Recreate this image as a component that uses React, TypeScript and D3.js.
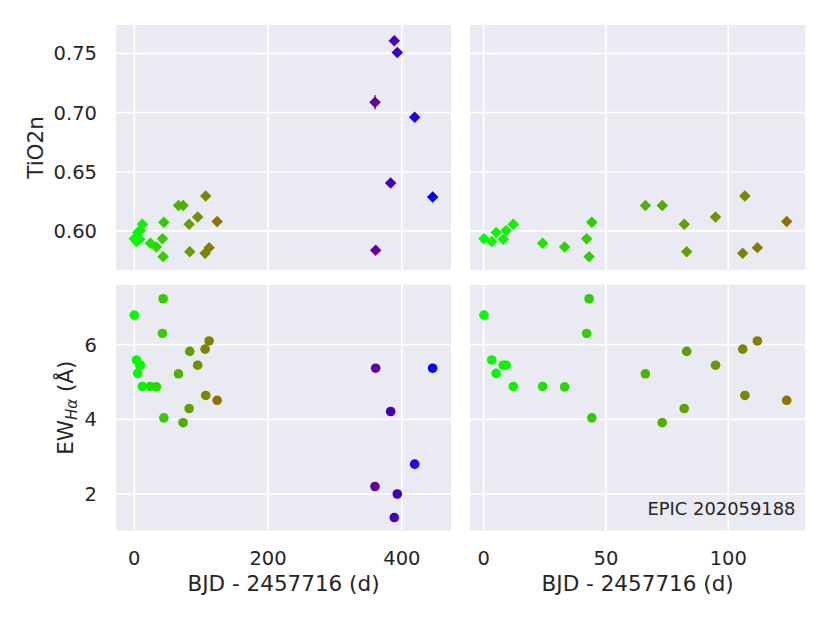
import React from "react";
import * as d3 from "d3";

// Observation time (BJD - 2457716, days)
const times: number[] = [
  0.1, 3.3, 5.1, 8.0, 9.2, 12.1, 24.1, 33.1, 42.1, 43.1, 44.2, 66.1, 73.0, 82.0,
  83.0, 94.8, 105.9, 106.8, 111.9, 123.9, 359.8, 360.8, 383.2, 388.6, 393.1, 419.1, 446.0,
];
// TiO2n index
const tio2: number[] = [
  0.5935, 0.591, 0.5986, 0.593, 0.6003, 0.6057, 0.5896, 0.5865, 0.5935, 0.5783, 0.6073,
  0.6214, 0.6214, 0.6057, 0.5825, 0.6118, 0.5812, 0.6296, 0.5859, 0.6079, 0.7087, 0.5837,
  0.6405, 0.7606, 0.7508, 0.696, 0.6287,
];
const tio2Err: number[] = [
  0.002, 0.002, 0.002, 0.002, 0.002, 0.002, 0.002, 0.002, 0.002, 0.002, 0.002,
  0.002, 0.002, 0.002, 0.002, 0.002, 0.002, 0.002, 0.002, 0.002, 0.006, 0.002,
  0.002, 0.002, 0.002, 0.002, 0.002,
];
// EW Halpha (Angstrom)
const ewHa: number[] = [
  6.79, 5.59, 5.23, 5.45, 5.45, 4.88, 4.88, 4.87, 6.3, 7.23, 4.04, 5.22, 3.91, 4.29,
  5.82, 5.45, 5.88, 4.64, 6.1, 4.51, 2.2, 5.37, 4.21, 1.37, 2.0, 2.8, 5.37,
];

const leftXTicks = [0, 200, 400];
const rightXTicks = [0, 50, 100];
const tioTicks = [0.6, 0.65, 0.7, 0.75];
const ewTicks = [2, 4, 6];

const FONT = "DejaVu Sans, sans-serif";
const BG = "#EAEAF2";

// brg_r colormap
function brgR(v: number): string {
  const x = 1 - Math.max(0, Math.min(1, v));
  const r = x < 0.5 ? 2 * x : 2 - 2 * x;
  const g = x < 0.5 ? 0 : 2 * x - 1;
  const b = x < 0.5 ? 1 - 2 * x : 0;
  return d3.rgb(r * 255, g * 255, b * 255).formatHex();
}

const colorScale = d3.scaleLinear().domain([0, d3.max(times) as number]).range([0, 1]);

type PanelProps = {
  x0: number; x1: number; y0: number; y1: number;
  xDomain: [number, number]; yDomain: [number, number];
  xTicks: number[]; yTicks: number[];
  values: number[]; errs?: number[];
  marker: "D" | "o";
  showXLabels: boolean; showYLabels: boolean; yFmt: (v: number) => string;
  clipId: string;
};

function Panel(p: PanelProps) {
  const xs = d3.scaleLinear().domain(p.xDomain).range([p.x0, p.x1]);
  const ys = d3.scaleLinear().domain(p.yDomain).range([p.y1, p.y0]);
  const sq = d3.symbol().type(d3.symbolSquare).size(66)() as string;
  return (
    <g>
      <defs>
        <clipPath id={p.clipId}>
          <rect x={p.x0} y={p.y0} width={p.x1 - p.x0} height={p.y1 - p.y0} />
        </clipPath>
      </defs>
      <rect x={p.x0} y={p.y0} width={p.x1 - p.x0} height={p.y1 - p.y0} fill={BG} />
      {p.xTicks.map((t) => (
        <line key={"gx" + t} x1={xs(t)} x2={xs(t)} y1={p.y0} y2={p.y1} stroke="#fff" strokeWidth={1.7} />
      ))}
      {p.yTicks.map((t) => (
        <line key={"gy" + t} x1={p.x0} x2={p.x1} y1={ys(t)} y2={ys(t)} stroke="#fff" strokeWidth={1.7} />
      ))}
      <g clipPath={`url(#${p.clipId})`}>
        {p.errs &&
          times.map((t, i) => (
            <line key={"e" + i} x1={xs(t)} x2={xs(t)} y1={ys(p.values[i] - p.errs![i])} y2={ys(p.values[i] + p.errs![i])}
              stroke="#777" strokeWidth={2} />
          ))}
        {times.map((t, i) =>
          p.marker === "D" ? (
            <path key={"m" + i} d={sq} transform={`translate(${xs(t)},${ys(p.values[i])}) rotate(45)`} fill={brgR(colorScale(t))} />
          ) : (
            <circle key={"m" + i} cx={xs(t)} cy={ys(p.values[i])} r={4.8} fill={brgR(colorScale(t))} />
          )
        )}
      </g>
      {p.showXLabels &&
        p.xTicks.map((t) => (
          <text key={"xl" + t} x={xs(t)} y={565} textAnchor="middle" fontFamily={FONT} fontSize={19.5} fill="#262626">
            {String(t)}
          </text>
        ))}
      {p.showYLabels &&
        p.yTicks.map((t) => (
          <text key={"yl" + t} x={97} y={ys(t)} dy="0.36em" textAnchor="end" fontFamily={FONT} fontSize={19.5} fill="#262626">
            {p.yFmt(t)}
          </text>
        ))}
    </g>
  );
}

export default function App() {
  const L: [number, number] = [116, 451];
  const R: [number, number] = [470, 805.3];
  const T: [number, number] = [25, 270];
  const B: [number, number] = [284.7, 530.7];
  const leftDom: [number, number] = [-27.3, 473.4];
  const rightDom: [number, number] = [-5.6, 131.5];
  const tioDom: [number, number] = [0.567, 0.774];
  const ewDom: [number, number] = [1.017, 7.606];
  const f2 = d3.format(".2f");
  const f0 = d3.format("d");
  return (
    <svg width={830} height={623} style={{ position: "absolute", left: 0, top: 0, background: "#fff" }}>
      <Panel x0={L[0]} x1={L[1]} y0={T[0]} y1={T[1]} xDomain={leftDom} yDomain={tioDom} xTicks={leftXTicks} yTicks={tioTicks}
        values={tio2} errs={tio2Err} marker="D" showXLabels={false} showYLabels={true} yFmt={f2} clipId="c1" />
      <Panel x0={R[0]} x1={R[1]} y0={T[0]} y1={T[1]} xDomain={rightDom} yDomain={tioDom} xTicks={rightXTicks} yTicks={tioTicks}
        values={tio2} errs={tio2Err} marker="D" showXLabels={false} showYLabels={false} yFmt={f2} clipId="c2" />
      <Panel x0={L[0]} x1={L[1]} y0={B[0]} y1={B[1]} xDomain={leftDom} yDomain={ewDom} xTicks={leftXTicks} yTicks={ewTicks}
        values={ewHa} marker="o" showXLabels={true} showYLabels={true} yFmt={f0} clipId="c3" />
      <Panel x0={R[0]} x1={R[1]} y0={B[0]} y1={B[1]} xDomain={rightDom} yDomain={ewDom} xTicks={rightXTicks} yTicks={ewTicks}
        values={ewHa} marker="o" showXLabels={true} showYLabels={false} yFmt={f0} clipId="c4" />
      <text x={795.5} y={515} textAnchor="end" fontFamily={FONT} fontSize={17.9} fill="#262626">EPIC 202059188</text>
      <text x={(L[0] + L[1]) / 2} y={591} textAnchor="middle" fontFamily={FONT} fontSize={21.5} fill="#262626">BJD - 2457716 (d)</text>
      <text x={(R[0] + R[1]) / 2} y={591} textAnchor="middle" fontFamily={FONT} fontSize={21.5} fill="#262626">BJD - 2457716 (d)</text>
      <text transform={`translate(43,${(T[0] + T[1]) / 2}) rotate(-90)`} textAnchor="middle" fontFamily={FONT} fontSize={21.5} fill="#262626">TiO2n</text>
      <text transform={`translate(73,${(B[0] + B[1]) / 2}) rotate(-90)`} textAnchor="middle" fontFamily={FONT} fontSize={21.5} fill="#262626">
        EW<tspan fontSize={15} fontStyle="italic" dy={4}>Hα</tspan>
        <tspan dy={-4}> (Å)</tspan>
      </text>
    </svg>
  );
}
